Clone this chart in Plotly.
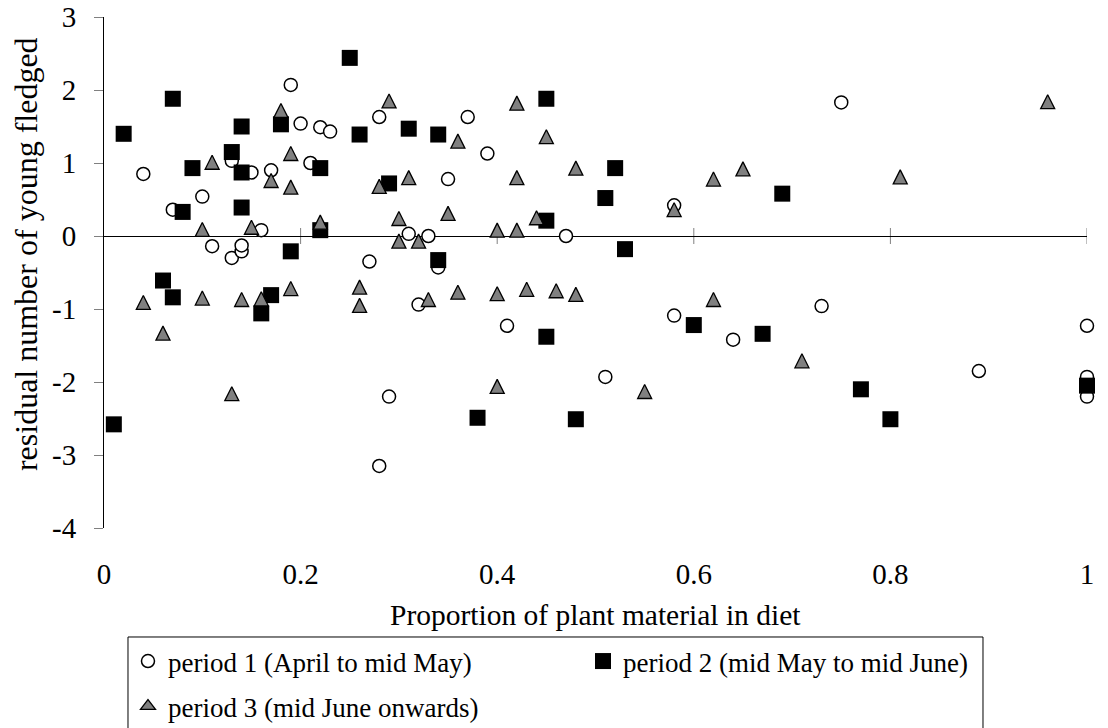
import plotly.graph_objects as go

# Period 1 (April to mid May): proportion of plant material vs residual fledglings
p1_x = [0.04, 0.07, 0.10, 0.13, 0.15, 0.17, 0.16, 0.19, 0.20, 0.21,
        0.22, 0.23, 0.11, 0.13, 0.14, 0.14, 0.28, 0.37, 0.39, 0.35,
        0.31, 0.33, 0.47, 0.27, 0.34, 0.32, 0.41, 0.29, 0.28, 0.75,
        0.58, 0.51, 0.58, 0.64, 0.73, 0.89, 1.00, 1.00, 1.00]
p1_y = [0.85, 0.36, 0.54, 1.03, 0.87, 0.90, 0.08, 2.07, 1.54, 1.00,
        1.49, 1.43, -0.14, -0.30, -0.21, -0.13, 1.63, 1.63, 1.13, 0.78,
        0.03, 0.00, 0.00, -0.35, -0.43, -0.94, -1.23, -2.20, -3.15, 1.83,
        0.42, -1.93, -1.09, -1.42, -0.96, -1.85, -1.23, -1.93, -2.20]

# Period 2 (mid May to mid June)
p2_x = [0.02, 0.07, 0.09, 0.13, 0.14, 0.14, 0.14, 0.08, 0.18, 0.22,
        0.22, 0.25, 0.26, 0.31, 0.34, 0.45, 0.29, 0.45, 0.19, 0.06,
        0.07, 0.17, 0.16, 0.01, 0.34, 0.45, 0.38, 0.48, 0.52, 0.51,
        0.69, 0.53, 0.60, 0.67, 0.77, 0.80, 1.00]
p2_y = [1.40, 1.88, 0.93, 1.15, 1.50, 0.87, 0.39, 0.33, 1.53, 0.93,
        0.08, 2.44, 1.39, 1.47, 1.39, 1.88, 0.72, 0.21, -0.21, -0.61,
        -0.84, -0.81, -1.06, -2.58, -0.33, -1.38, -2.49, -2.51, 0.93, 0.52,
        0.58, -0.18, -1.22, -1.34, -2.10, -2.51, -2.05]

# Period 3 (mid June onwards)
p3_x = [0.11, 0.17, 0.10, 0.15, 0.18, 0.19, 0.19, 0.22, 0.04, 0.10,
        0.14, 0.16, 0.19, 0.06, 0.13, 0.29, 0.36, 0.42, 0.45, 0.48,
        0.28, 0.31, 0.42, 0.30, 0.35, 0.44, 0.30, 0.32, 0.40, 0.42,
        0.26, 0.26, 0.33, 0.36, 0.40, 0.43, 0.46, 0.48, 0.40, 0.96,
        0.58, 0.62, 0.65, 0.81, 0.55, 0.62, 0.71]
p3_y = [1.01, 0.76, 0.09, 0.12, 1.72, 1.13, 0.67, 0.19, -0.91, -0.85,
        -0.87, -0.86, -0.72, -1.33, -2.16, 1.85, 1.30, 1.82, 1.36, 0.93,
        0.68, 0.80, 0.80, 0.24, 0.31, 0.25, -0.07, -0.07, 0.08, 0.08,
        -0.70, -0.95, -0.87, -0.77, -0.79, -0.73, -0.75, -0.80, -2.06, 1.84,
        0.36, 0.78, 0.92, 0.81, -2.13, -0.87, -1.71]

series_names = ["period 1 (April to mid May)",
                "period 2 (mid May to mid June)",
                "period 3 (mid June onwards)"]

x_tick_vals = [0, 0.2, 0.4, 0.6, 0.8, 1]
x_tick_text = ["0", "0.2", "0.4", "0.6", "0.8", "1"]
y_tick_vals = [-4, -3, -2, -1, 0, 1, 2, 3]
y_tick_text = ["-4", "-3", "-2", "-1", "0", "1", "2", "3"]

x_title = "Proportion of plant material in diet"
y_title = "residual number of young fledged"

FONT = "Liberation Serif"
TRI = 14  # triangle marker size (px)
GREY = "#808080"

fig = go.Figure()

fig.add_trace(go.Scatter(
    x=p1_x, y=p1_y, mode="markers", name=series_names[0],
    legend="legend", legendgroup="p1", cliponaxis=False,
    marker=dict(symbol="circle", size=13, color="white",
                line=dict(color="black", width=1.5)),
))
fig.add_trace(go.Scatter(
    x=p2_x, y=p2_y, mode="markers", name=series_names[1],
    legend="legend2", legendgroup="p2", cliponaxis=False,
    marker=dict(symbol="square", size=16, color="black",
                line=dict(color="black", width=0)),
))
# an arrow head turned upright, shifted by half its height so that the
# triangle is centred on the point (taller than the stock triangle-up)
fig.add_trace(go.Scatter(
    x=p3_x, y=p3_y, mode="markers", name=series_names[2],
    legendgroup="p3", showlegend=False, cliponaxis=False,
    marker=dict(symbol="arrow-down", angle=180, size=TRI, standoff=TRI / 2,
                color=GREY, line=dict(color="black", width=1.3)),
))
# legend key for period 3 (plain triangle, no data of its own)
fig.add_trace(go.Scatter(
    x=[None], y=[None], mode="markers", name=series_names[2],
    legend="legend", legendgroup="p3", showlegend=True,
    marker=dict(symbol="triangle-up", size=13, color=GREY,
                line=dict(color="black", width=1.3)),
))

# small tick marks crossing the zero line
shapes = [
    dict(type="line", xref="x", yref="y", x0=t, x1=t,
         ysizemode="pixel", yanchor=0, y0=-8, y1=8,
         line=dict(color=GREY, width=1), layer="below")
    for t in x_tick_vals[1:]
]
# frame around the legend block
shapes.append(dict(type="rect", xref="paper", yref="paper",
                   x0=0.0244, x1=0.8942, y0=-0.2133, y1=-0.46,
                   line=dict(color="black", width=1),
                   fillcolor="rgba(0,0,0,0)"))

fig.update_layout(
    width=1108, height=728,
    margin=dict(l=104, r=21, t=17, b=200, autoexpand=False),
    paper_bgcolor="white", plot_bgcolor="white",
    font=dict(family=FONT, size=29, color="black"),
    xaxis=dict(range=[0, 1], tickmode="array", tickvals=x_tick_vals,
               ticktext=x_tick_text, showline=False, showgrid=False,
               zeroline=False, ticks="", ticklabelstandoff=26,
               tickfont=dict(family=FONT, size=29, color="black")),
    yaxis=dict(range=[-4, 3], tickmode="array", tickvals=y_tick_vals,
               ticktext=y_tick_text, showline=True, linecolor="black",
               linewidth=1, ticks="outside", ticklen=9, tickwidth=1,
               tickcolor=GREY, showgrid=False, zeroline=True,
               zerolinecolor="black", zerolinewidth=1,
               ticklabelstandoff=12,
               tickfont=dict(family=FONT, size=29, color="black")),
    legend=dict(x=0.0244, y=-0.2133, xanchor="left", yanchor="top",
                orientation="v", traceorder="grouped", tracegroupgap=7,
                bgcolor="rgba(0,0,0,0)", borderwidth=0,
                font=dict(family=FONT, size=27, color="black")),
    legend2=dict(x=0.4873, y=-0.2133, xanchor="left", yanchor="top",
                 orientation="v", bgcolor="rgba(0,0,0,0)", borderwidth=0,
                 font=dict(family=FONT, size=27, color="black")),
    shapes=shapes,
    annotations=[
        dict(text=x_title, xref="paper", yref="paper", x=0.5, y=-0.1703,
             xanchor="center", yanchor="middle", showarrow=False,
             font=dict(family=FONT, size=29.5, color="black")),
        dict(text=y_title, xref="paper", yref="paper", x=-0.0793, y=0.1076,
             xanchor="center", yanchor="bottom", textangle=-90,
             showarrow=False,
             font=dict(family=FONT, size=32, color="black")),
    ],
)

fig.write_html("out.html")
